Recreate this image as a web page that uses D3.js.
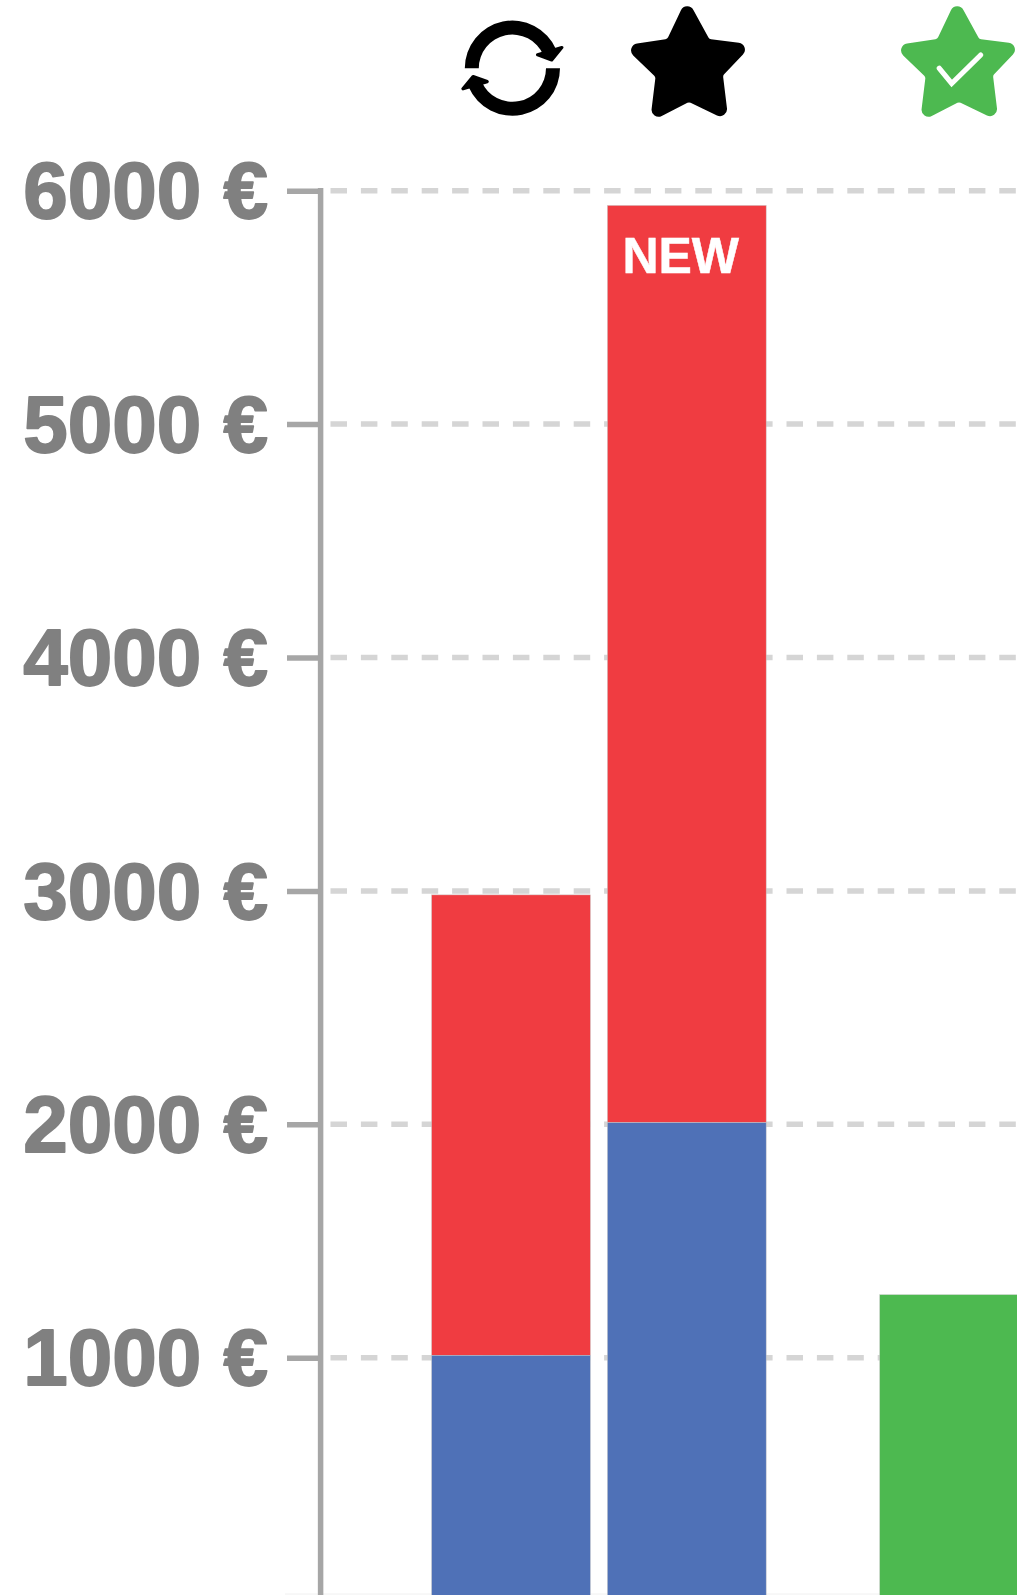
<!DOCTYPE html>
<html>
<head>
<meta charset="utf-8">
<script src="https://cdnjs.cloudflare.com/ajax/libs/d3/7.8.5/d3.min.js"></script>
<style>
html,body{margin:0;padding:0;background:#fff;overflow:hidden}
svg{display:block}
.soft{filter:blur(0.5px)}
</style>
</head>
<body>
<svg id="chart" width="1017" height="1595"></svg>
<script>
const tickValues = [1000, 2000, 3000, 4000, 5000, 6000];
const barSlots = [0, 1, 2.549];
const blueValues = [1010, 2007, 0];
const redValues = [1973, 3930, 0];
const greenValues = [0, 0, 1270];
const newLabel = "NEW";
const baseValue = -20;

const colors = {blue:"#4f71b7", red:"#f03c41", green:"#4db950", label:"#808080", axis:"#a6a6a6", grid:"#d5d5d5"};

const W = 1017, H = 1595;
const svg = d3.select("#chart");
const y = d3.scaleLinear().domain([1000, 6000]).range([1357.7, 190.7]);
const x = d3.scaleLinear().domain([0, 1]).range([431.6, 607.4]);
const barW = 158.8;

// gridlines
const grid = svg.append("g");
grid.selectAll("line").data(tickValues).join("line")
  .attr("x1", 330.5).attr("x2", W)
  .attr("y1", d => y(d)).attr("y2", d => y(d))
  .attr("stroke", colors.grid).attr("stroke-width", 5.5)
  .attr("stroke-dasharray", "16.5 13.9");

// faint base line
svg.append("line").attr("x1", 285).attr("x2", W).attr("y1", 1594).attr("y2", 1594)
  .attr("stroke", "#f0f0f0").attr("stroke-width", 1);

// bars
const stackRows = barSlots.map((s, i) => ({slot:s, blue:blueValues[i], red:redValues[i], green:greenValues[i]}));
const barsG = svg.append("g");
function drawSeries(getBase, getTop, fill) {
  barsG.append("g").selectAll("rect").data(stackRows.filter(d => getTop(d) > getBase(d))).join("rect")
    .attr("x", d => x(d.slot))
    .attr("width", barW)
    .attr("y", d => y(getTop(d)))
    .attr("height", d => y(getBase(d)) - y(getTop(d)))
    .attr("fill", fill)
    .attr("stroke", "#c9c9c9").attr("stroke-width", 0.6).attr("stroke-opacity", 0.8);
}
drawSeries(d => d.blue, d => d.blue + d.red, colors.red);
drawSeries(() => baseValue, d => d.blue > 0 ? d.blue : baseValue, colors.blue);
drawSeries(() => baseValue, d => d.green > 0 ? d.green : baseValue, colors.green);

// NEW label
svg.append("text").text(newLabel).attr("class", "soft")
  .attr("x", x(1) + 15).attr("y", y(blueValues[1] + redValues[1]) + 68)
  .attr("font-family", "'Liberation Sans', Arial, sans-serif")
  .attr("font-weight", 700).attr("font-size", 50).attr("fill", "#fff")
  .attr("stroke", "#fff").attr("stroke-width", 0.5);

// y axis
const axis = d3.axisLeft(y).tickValues(tickValues).tickFormat(d => d + " €").tickSize(35).tickPadding(19);
const axisG = svg.append("g").attr("transform", "translate(322,0)").call(axis);
axisG.select(".domain").remove();
axisG.selectAll(".tick line").attr("stroke", colors.axis).attr("stroke-width", 5.5);
axisG.selectAll(".tick text").attr("class", "soft")
  .attr("fill", colors.label)
  .attr("stroke", colors.label).attr("stroke-width", 1.8).attr("stroke-linejoin", "round")
  .attr("font-family", "'Liberation Sans', Arial, sans-serif")
  .attr("font-weight", 700).attr("font-size", 80)
  .attr("dy", "0.34em");
svg.append("line").attr("x1", 320.6).attr("x2", 320.6).attr("y1", y(6000) - 2.7).attr("y2", H)
  .attr("stroke", colors.axis).attr("stroke-width", 5.5);

// refresh icon
const refresh = svg.append("g").attr("transform", "translate(512.4,68.2)").attr("class", "soft");
const arcGen = d3.arc().innerRadius(33.6).outerRadius(47.6).startAngle(-Math.PI / 2).endAngle(1.16);
[0, 180].forEach(r => {
  const g = refresh.append("g").attr("transform", `rotate(${r})`);
  g.append("path").attr("d", arcGen()).attr("fill", "#000");
  g.append("path").attr("d", "M39.3,-8.3L49.4,-20.6L25.2,-13.4Z")
    .attr("fill", "#000").attr("stroke", "#000").attr("stroke-width", 3.2).attr("stroke-linejoin", "round");
});

// stars
const starPts = [[686.8,-2],[709.3,39],[752.5,44.5],[723,75.5],[728.5,121],[689,102],[650,122],[655.5,77],[623,45.5],[667.3,39]];
const tipRadius = i => i % 2 === 0 ? 7 : 3.5;
function starPath(dx) {
  const p = d3.path();
  const n = starPts.length;
  const pt = i => [starPts[(i + n) % n][0] + dx, starPts[(i + n) % n][1]];
  const a = pt(0), b = pt(n - 1);
  p.moveTo((a[0] + b[0]) / 2, (a[1] + b[1]) / 2);
  for (let i = 0; i < n; i++) {
    const c = pt(i), d = pt(i + 1);
    p.arcTo(c[0], c[1], d[0], d[1], tipRadius(i));
  }
  p.closePath();
  return p.toString();
}
svg.append("path").attr("class", "soft").attr("d", starPath(0)).attr("fill", "#000");
svg.append("path").attr("class", "soft").attr("d", starPath(270)).attr("fill", colors.green);
svg.append("path").attr("class", "soft").attr("d", "M939.3,68.3L951.7,83.5L980.7,55")
  .attr("fill", "none").attr("stroke", "#fff").attr("stroke-width", 5.2)
  .attr("stroke-linecap", "round").attr("stroke-linejoin", "miter");
</script>
</body>
</html>
